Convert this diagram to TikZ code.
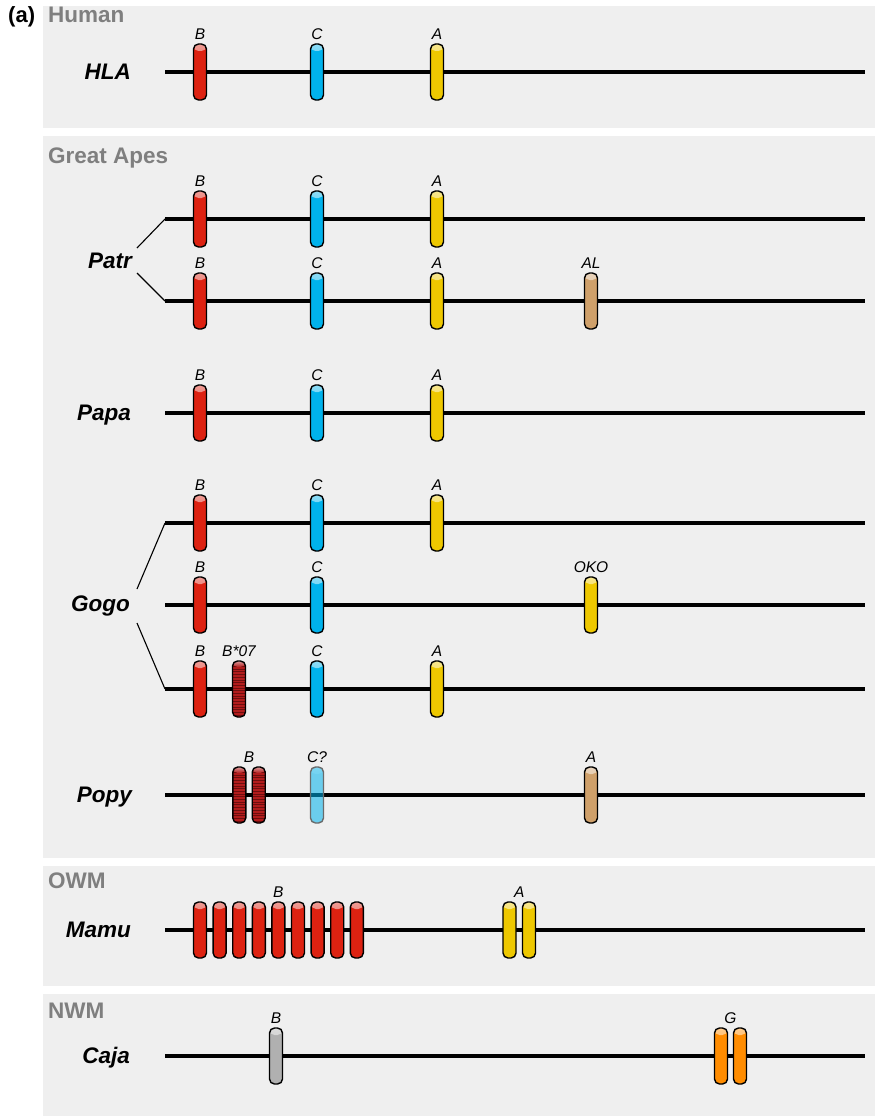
\documentclass[tikz,border=0pt]{standalone}
\usepackage{fontspec}
\setmainfont{Liberation Sans}
\usetikzlibrary{calc}
\definecolor{bg}{HTML}{EFEFEF}
\definecolor{titlegray}{HTML}{7F7F7F}
\definecolor{gred}{HTML}{DD2211}
\definecolor{gblue}{HTML}{00B2EC}
\definecolor{gyellow}{HTML}{EEC800}
\definecolor{gtan}{HTML}{CFA06A}
\definecolor{ggray}{HTML}{B0B0B0}
\definecolor{gorange}{HTML}{FF8C00}
\definecolor{hred}{HTML}{B21C1C}
\definecolor{hdark}{HTML}{6E0E0E}
\definecolor{cqborder}{HTML}{6A6A6A}
\newcommand\chromline[2]{%
  \coordinate (#1S) at (165,#2);
  \coordinate (#1E) at (865,#2);
  \draw[chrom] (#1S) -- (#1E);}
\newcommand\genebar[5]{% name, x, y, style, label
  \node[#4] (#1) at (#2,#3) {};
  \node[glabel] (#1l) at ([yshift=4pt]#1.north) {#5};}
\newcommand\genebarnl[4]{% name, x, y, style (no label)
  \node[#4] (#1) at (#2,#3) {};}
\begin{document}
\begin{tikzpicture}[x=1pt,y=-1pt,
  panel/.style={fill=bg, draw=none},
  chrom/.style={line width=3.2pt, black},
  branch/.style={line width=1.1pt, black},
  gene/.style={rectangle, rounded corners=5pt, minimum width=13pt,
    minimum height=56pt, inner sep=0pt, draw=black, line width=1.4pt, fill=#1,
    path picture={\shade[top color=#1!45!white, bottom color=#1]
      (path picture bounding box.north west) rectangle
      ([yshift=-7pt]path picture bounding box.north east);}},
  hatch/.style={gene=hred,
    path picture={\foreach \k [evaluate=\k as \d using -\k*2.7] in {1,...,21}{
        \draw[hdark,line width=0.7pt]
          ([yshift=\d pt]path picture bounding box.north west) --
          ([yshift=\d pt]path picture bounding box.north east);}
      \shade[top color=hred!45!white, bottom color=hred]
      (path picture bounding box.north west) rectangle
      ([yshift=-6pt]path picture bounding box.north east);}},
  cq/.style={rectangle, rounded corners=5pt, minimum width=13pt,
    minimum height=56pt, inner sep=0pt, draw=cqborder, line width=1.4pt,
    fill=gblue, fill opacity=0.55,
    path picture={\shade[top color=gblue!45!white, bottom color=gblue, opacity=0.55]
      (path picture bounding box.north west) rectangle
      ([yshift=-7pt]path picture bounding box.north east);}},
  glabel/.style={font=\itshape\fontsize{15.5}{15.5}\selectfont, anchor=base, inner sep=0pt},
  species/.style={font=\bfseries\itshape\fontsize{22.5}{22.5}\selectfont, anchor=base east, inner sep=0pt},
  ttl/.style={font=\bfseries\fontsize{22.5}{22.5}\selectfont, text=titlegray, anchor=base west, inner sep=0pt},
]
\useasboundingbox (0,0) rectangle (875,1116);
% panels
\fill[panel] (43,6) rectangle (875,128);
\fill[panel] (43,136) rectangle (875,858);
\fill[panel] (43,866) rectangle (875,986);
\fill[panel] (43,994) rectangle (875,1116);
% titles
\node[font=\bfseries\fontsize{22}{22}\selectfont, anchor=base west, inner sep=0pt] (panela) at (8,23) {(a)};
\node[ttl] (human) at (48,23) {Human};
\node[ttl] (apes) at (48,163) {Great Apes};
\node[ttl] (owm) at (48,888) {OWM};
\node[ttl] (nwm) at (48,1018) {NWM};
% species labels
\node[species] (hla) at (131,79.5) {HLA};
\node[species] (patr) at (132,268) {Patr};
\node[species] (papa) at (131,420) {Papa};
\node[species] (gogo) at (130,611) {Gogo};
\node[species] (popy) at (132,802) {Popy};
\node[species] (mamu) at (131,937) {Mamu};
\node[species] (caja) at (130,1063) {Caja};
% chromosome lines
\chromline{hla}{72}
\chromline{patrA}{219}
\chromline{patrB}{301}
\chromline{papa}{413}
\chromline{gogoA}{523}
\chromline{gogoB}{605}
\chromline{gogoC}{689}
\chromline{popy}{795}
\chromline{mamu}{930}
\chromline{caja}{1056}
% branches
\draw[branch] ([xshift=5pt,yshift=20pt]patr.base east) -- (patrAS);
\draw[branch] ([xshift=5pt,yshift=-5pt]patr.base east) -- (patrBS);
\draw[branch] ([xshift=7pt,yshift=22pt]gogo.base east) -- (gogoAS);
\draw[branch] ([xshift=7pt,yshift=-12pt]gogo.base east) -- (gogoCS);
% HLA
\genebar{hlaB}{200}{72}{gene=gred}{B}
\genebar{hlaC}{317}{72}{gene=gblue}{C}
\genebar{hlaA}{437}{72}{gene=gyellow}{A}
% Patr
\genebar{patrAB}{200}{219}{gene=gred}{B}
\genebar{patrAC}{317}{219}{gene=gblue}{C}
\genebar{patrAA}{437}{219}{gene=gyellow}{A}
\genebar{patrBB}{200}{301}{gene=gred}{B}
\genebar{patrBC}{317}{301}{gene=gblue}{C}
\genebar{patrBA}{437}{301}{gene=gyellow}{A}
\genebar{patrBAL}{591}{301}{gene=gtan}{AL}
% Papa
\genebar{papaB}{200}{413}{gene=gred}{B}
\genebar{papaC}{317}{413}{gene=gblue}{C}
\genebar{papaA}{437}{413}{gene=gyellow}{A}
% Gogo
\genebar{gogoAB}{200}{523}{gene=gred}{B}
\genebar{gogoAC}{317}{523}{gene=gblue}{C}
\genebar{gogoAA}{437}{523}{gene=gyellow}{A}
\genebar{gogoBB}{200}{605}{gene=gred}{B}
\genebar{gogoBC}{317}{605}{gene=gblue}{C}
\genebar{gogoBO}{591}{605}{gene=gyellow}{OKO}
\genebar{gogoCB}{200}{689}{gene=gred}{B}
\genebar{gogoCB7}{239}{689}{hatch}{B*07}
\genebar{gogoCC}{317}{689}{gene=gblue}{C}
\genebar{gogoCA}{437}{689}{gene=gyellow}{A}
% Popy
\genebarnl{popyB1}{239.3}{795}{hatch}
\genebarnl{popyB2}{258.7}{795}{hatch}
\node[glabel] (popyBl) at ([yshift=4pt]$(popyB1.north)!0.5!(popyB2.north)$) {B};
\genebar{popyC}{317}{795}{cq}{C?}
\genebar{popyA}{591}{795}{gene=gtan}{A}
% Mamu
\foreach \i in {0,...,8}{
  \node[gene=gred] (mamuB\i) at ({200+19.6*\i},930) {};
}
\node[glabel] (mamuBl) at ([yshift=4pt]mamuB4.north) {B};
\genebarnl{mamuA1}{509.5}{930}{gene=gyellow}
\genebarnl{mamuA2}{529}{930}{gene=gyellow}
\node[glabel] (mamuAl) at ([yshift=4pt]$(mamuA1.north)!0.5!(mamuA2.north)$) {A};
% Caja
\genebar{cajaB}{276}{1056}{gene=ggray}{B}
\genebarnl{cajaG1}{721}{1056}{gene=gorange}
\genebarnl{cajaG2}{740}{1056}{gene=gorange}
\node[glabel] (cajaGl) at ([yshift=4pt]$(cajaG1.north)!0.5!(cajaG2.north)$) {G};
\end{tikzpicture}
\end{document}
